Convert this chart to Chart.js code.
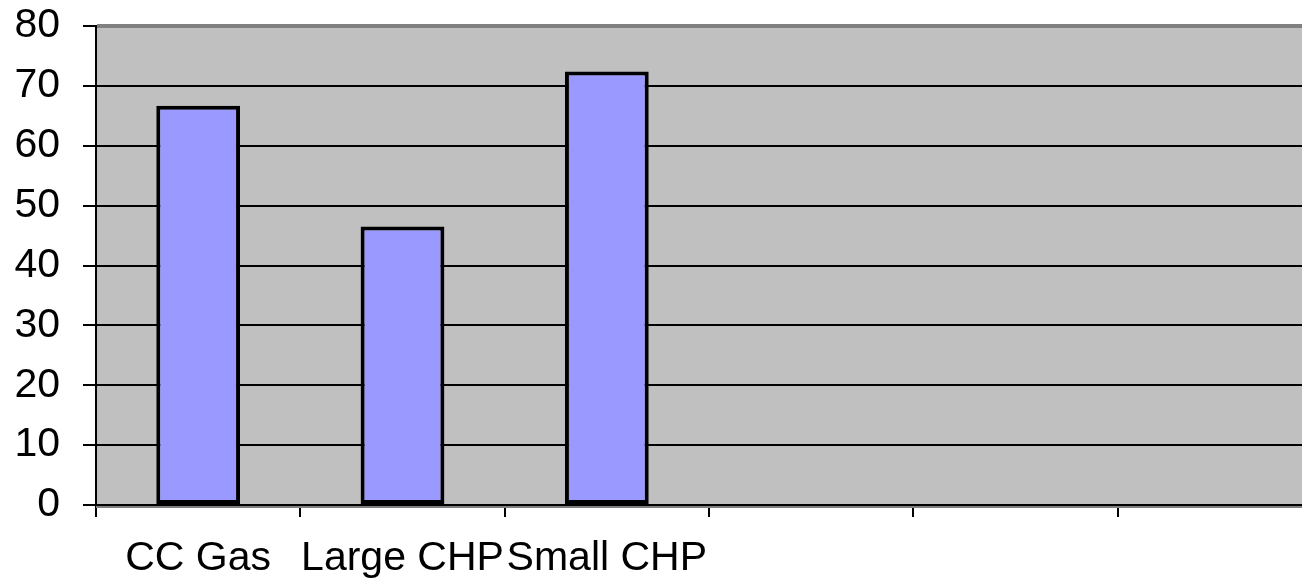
<!DOCTYPE html>
<html>
<head>
<meta charset="utf-8">
<script src="https://cdn.jsdelivr.net/npm/chart.js@4/dist/chart.umd.min.js"></script>
<style>
html,body{margin:0;padding:0;background:#fff;overflow:hidden;}
#wrap{width:1322px;height:583px;}
</style>
</head>
<body>
<div id="wrap"><canvas id="c" width="1322" height="583"></canvas></div>
<script>
const categories = ["CC Gas", "Large CHP", "Small CHP", "", "", ""];
const values = [66.7, 46.5, 72.4, null, null, null];
const yTicks = [0, 10, 20, 30, 40, 50, 60, 70, 80];

const plotBg = {
  id: 'plotBg',
  beforeDraw(chart) {
    const {ctx, chartArea: a} = chart;
    ctx.save();
    ctx.fillStyle = '#C0C0C0';
    ctx.fillRect(a.left, a.top, a.right - a.left, a.bottom - a.top);
    ctx.restore();
  },
  afterDraw(chart) {
    const {ctx, chartArea: a} = chart;
    ctx.save();
    ctx.strokeStyle = '#808080';
    ctx.lineWidth = 2;
    ctx.beginPath();
    ctx.moveTo(a.left, a.bottom + 2);
    ctx.lineTo(a.right, a.bottom + 2);
    ctx.stroke();
    ctx.restore();
  }
};

new Chart(document.getElementById('c'), {
  type: 'bar',
  data: {
    labels: categories,
    datasets: [{
      data: values,
      backgroundColor: '#9999FF',
      borderColor: '#000000',
      borderWidth: 4,
      borderSkipped: false,
      barPercentage: 1,
      categoryPercentage: 0.41
    }]
  },
  options: {
    responsive: false,
    animation: false,
    layout: { padding: { top: 26, left: 0, right: 0, bottom: 0 } },
    plugins: { legend: { display: false }, tooltip: { enabled: false } },
    scales: {
      x: {
        offset: true,
        afterFit(s) { s.height = 78; s.paddingLeft = 0; s.paddingRight = 0; },
        grid: { display: true, drawOnChartArea: false, drawTicks: true, tickLength: 12, color: '#000', lineWidth: 2, offset: true },
        border: { display: true, color: '#000', width: 3 },
        ticks: { autoSkip: false, maxRotation: 0, minRotation: 0, padding: 17, color: '#000',
                 font: { family: '"Liberation Sans", Arial, sans-serif', size: 41 } }
      },
      y: {
        min: 0, max: 80,
        afterFit(s) { s.width = 96; s.paddingTop = 0; s.paddingBottom = 0; },
        afterBuildTicks(s) { s.ticks = yTicks.map(v => ({ value: v })); },
        grid: {
          color: c => (c.tick && c.tick.value === 80) ? '#808080' : '#000',
          lineWidth: c => (c.tick && c.tick.value === 80) ? 4 : 2,
          tickColor: '#000', tickWidth: 2, tickLength: 13, drawTicks: true
        },
        border: { display: true, color: '#000', width: 2 },
        ticks: { stepSize: 10, padding: 23, color: '#000',
                 font: { family: '"Liberation Sans", Arial, sans-serif', size: 41 } }
      }
    }
  },
  plugins: [plotBg]
});
</script>
</body>
</html>
